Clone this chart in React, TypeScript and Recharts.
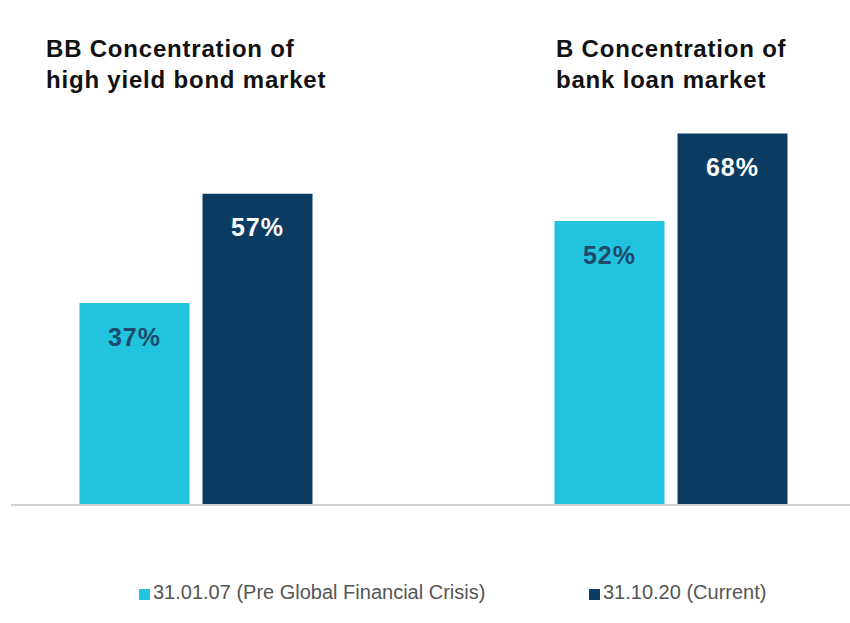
import { Bar, BarChart, LabelList, Legend, XAxis, YAxis } from "recharts";

const markets = ["high yield bond market", "bank loan market"];
const preCrisis = [37, 52];
const current = [57, 68];
const seriesNames = ["31.01.07 (Pre Global Financial Crisis)", "31.10.20 (Current)"];
const titles = [
  ["BB Concentration of", "high yield bond market"],
  ["B Concentration of", "bank loan market"],
];

const LIGHT = "#22c3de";
const DARK = "#0d3c62";

const data = markets.map((m, i) => ({
  market: m,
  pre: preCrisis[i],
  cur: current[i],
}));

const font = "'Liberation Sans', Arial, Helvetica, sans-serif";

function LegendBox() {
  const items = [
    { name: seriesNames[0], color: LIGHT, left: 139 },
    { name: seriesNames[1], color: DARK, left: 589 },
  ];
  return (
    <div style={{ position: "relative", height: 40, width: 850 }}>
      {items.map((it) => (
        <div
          key={it.name}
          style={{
            position: "absolute",
            left: it.left,
            top: 0,
            height: 40,
            display: "flex",
            alignItems: "center",
            fontFamily: font,
            fontSize: 20,
            color: "#555",
          }}
        >
          <span
            style={{
              display: "inline-block",
              width: 11,
              height: 11,
              background: it.color,
              marginRight: 3,
              marginTop: 4,
            }}
          />
          {it.name}
        </div>
      ))}
    </div>
  );
}

export default function App() {
  return (
    <div
      style={{
        position: "absolute",
        left: 0,
        top: 0,
        width: 850,
        height: 623,
        background: "#fff",
        fontFamily: font,
      }}
    >
      <BarChart
        width={850}
        height={623}
        data={data}
        barSize={110}
        barGap={13}
        margin={{ top: 68, right: 0, bottom: 11, left: 11 }}
      >
        <XAxis
          dataKey="market"
          tick={false}
          tickLine={false}
          height={67}
          stroke="#cfcfcf"
          strokeWidth={2}
          padding={{ left: -52.5, right: -58.5 }}
        />
        <YAxis hide domain={[0, 80]} />
        <Legend
          verticalAlign="bottom"
          content={() => <LegendBox />}
          wrapperStyle={{ left: 0, width: 850, height: 40 }}
        />
        <Bar dataKey="pre" name={seriesNames[0]} fill={LIGHT} isAnimationActive={false}>
          <LabelList
            dataKey="pre"
            position="insideTop"
            offset={25}
            formatter={(v: number) => `${v}%`}
            style={{ fill: "#1d4a6d", fontSize: 25, fontWeight: 700, fontFamily: font, letterSpacing: 1 }}
          />
        </Bar>
        <Bar dataKey="cur" name={seriesNames[1]} fill={DARK} isAnimationActive={false}>
          <LabelList
            dataKey="cur"
            position="insideTop"
            offset={25}
            formatter={(v: number) => `${v}%`}
            style={{ fill: "#ffffff", fontSize: 25, fontWeight: 700, fontFamily: font, letterSpacing: 1 }}
          />
        </Bar>
      </BarChart>
      {titles.map((lines, i) => (
        <div
          key={i}
          style={{
            position: "absolute",
            left: i === 0 ? 46 : 556,
            top: 33,
            fontSize: 24,
            lineHeight: "31px",
            fontWeight: 700,
            color: "#111",
            letterSpacing: 0.8,
            whiteSpace: "nowrap",
          }}
        >
          {lines[0]}
          <br />
          {lines[1]}
        </div>
      ))}
    </div>
  );
}
